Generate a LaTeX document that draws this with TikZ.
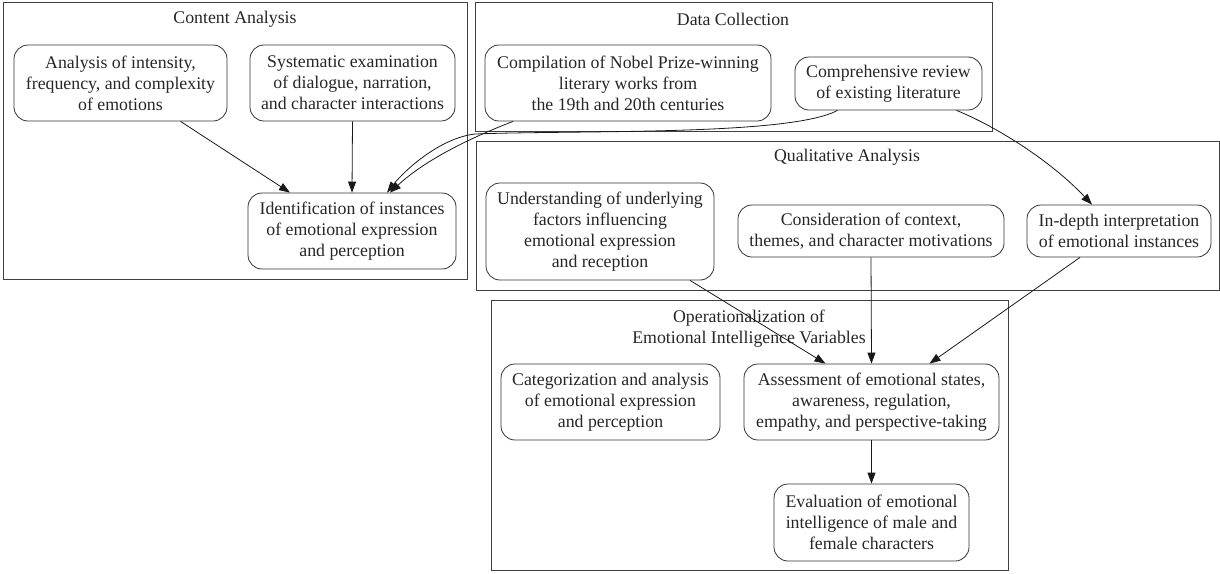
\documentclass[tikz,border=0pt]{standalone}
\usepackage{fontspec}
\setmainfont{Liberation Serif}
\usetikzlibrary{arrows.meta,calc}
\begin{document}
\begin{tikzpicture}[x=1pt,y=-1pt,
  every node/.style={font=\fontsize{17.8}{21}\selectfont, text=black!85, align=center, inner sep=0pt},
  box/.style={draw=black!80, line width=0.8pt, rounded corners=14pt, rectangle},
  cluster/.style={draw=black!75, line width=0.8pt},
  edge/.style={draw=black!90, line width=0.8pt, -{Triangle[length=11pt,width=8pt]}}
]
\useasboundingbox (0,0) rectangle (1220,573);
% clusters
\draw[cluster] (3,2) rectangle (467,279);
\node (tca) at (235,19) {Content Analysis};
\draw[cluster] (475,2) rectangle (992,131);
\node (tdc) at (733,19) {Data Collection};
\draw[cluster] (476,141) rectangle (1219,290);
\node (tqa) at (847,157) {Qualitative Analysis};
\draw[cluster] (491,300) rectangle (1008,570);
\node (top) at (749,329) {Operationalization of\\Emotional Intelligence Variables};
% nodes
\node[box, minimum width=213pt, minimum height=76pt] (an) at (120.5,83) {Analysis of intensity,\\frequency, and complexity\\of emotions};
\node[box, minimum width=205pt, minimum height=76pt] (sy) at (352.5,83) {Systematic examination\\of dialogue, narration,\\and character interactions};
\node[box, minimum width=208pt, minimum height=76pt] (id) at (352,231) {Identification of instances\\of emotional expression\\and perception};
\node[box, minimum width=286pt, minimum height=76pt] (co) at (628,83) {Compilation of Nobel Prize-winning\\literary works from\\the 19th and 20th centuries};
\node[box, minimum width=187pt, minimum height=53pt] (re) at (888.5,83.5) {Comprehensive review\\of existing literature};
\node[box, minimum width=228pt, minimum height=97pt] (un) at (600,231.5) {Understanding of underlying\\factors influencing\\emotional expression\\and reception};
\node[box, minimum width=266pt, minimum height=52pt] (cn) at (871,231) {Consideration of context,\\themes, and character motivations};
\node[box, minimum width=184pt, minimum height=52pt] (in) at (1119,231) {In-depth interpretation\\of emotional instances};
\node[box, minimum width=219pt, minimum height=76pt] (ca) at (610.5,402) {Categorization and analysis\\of emotional expression\\and perception};
\node[box, minimum width=255pt, minimum height=76pt] (as) at (871.5,402) {Assessment of emotional states,\\awareness, regulation,\\empathy, and perspective-taking};
\node[box, minimum width=195pt, minimum height=77pt] (ev) at (871.5,522.5) {Evaluation of emotional\\intelligence of male and\\female characters};
% edges
\draw[edge] ([xshift=60pt]an.south) -- ([xshift=-62pt]id.north);
\draw[edge] (sy.south) -- (id.north);
\draw[edge] ([xshift=-115pt]co.south) .. controls (470,138) and (425,160) .. ([xshift=38pt]id.north);
\draw[edge] ([xshift=-51pt]re.south) .. controls (790,136) and (580,130) .. (475,134) .. controls (440,138) and (405,170) .. ([xshift=35pt]id.north);
\draw[edge] ([xshift=68pt]re.south) .. controls (995,126) and (1050,160) .. ([xshift=-27pt]in.north);
\draw[edge] ([xshift=90pt]un.south) -- ([xshift=-46pt]as.north);
\draw[edge] (cn.south) -- (as.north);
\draw[edge] ([xshift=-39pt]in.south) -- ([xshift=58pt]as.north);
\draw[edge] (as.south) -- (ev.north);
\end{tikzpicture}
\end{document}
